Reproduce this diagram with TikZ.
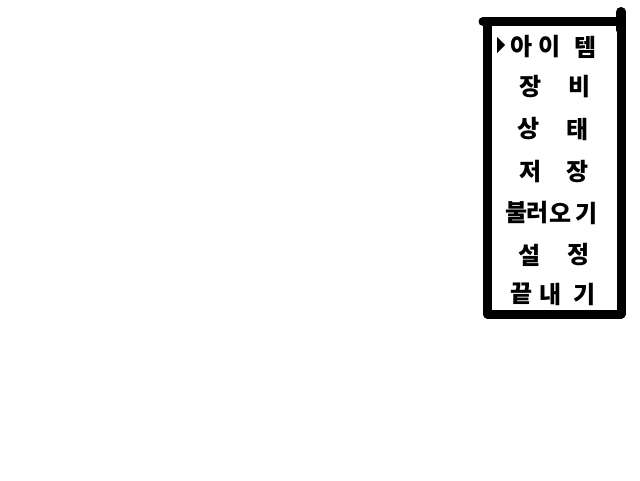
\documentclass[tikz,border=0pt]{standalone}
\usepackage{fontspec}
\newfontfamily\kr{Noto Sans CJK KR}
\tikzset{
  ch/.style={font=\kr\bfseries\fontsize{24}{24}\selectfont, inner sep=0pt, text=black},
  frame/.style={line width=9pt, line cap=round, line join=round, draw=black}
}
\begin{document}
\begin{tikzpicture}[x=1pt,y=-1pt]
\useasboundingbox[fill=white] (0,0) rectangle (640,480);
% frame
\coordinate (tr) at (621,12);
\coordinate (br) at (621,314);
\coordinate (bl) at (487.5,314);
\coordinate (tl) at (487.5,22);
\coordinate (tla) at (483,21.5);
\coordinate (tra) at (621,21.5);
\coordinate (trb) at (621,30);
\draw[frame] (tr) -- (br) -- (bl) -- (tl);
\draw[frame] (tla) -- (tra);
\draw[frame, line width=10pt] (tr) -- (trb);
% cursor
\fill (497,37) -- (497,53) -- (505,45) -- cycle;
% row 1
\node[ch] (a1) at (522,47) {아};
\node[ch] (a2) at (550,47) {이};
\node[ch] (a3) at (586,47) {템};
% row 2
\node[ch] (b1) at (531,87) {장};
\node[ch] (b2) at (580,87) {비};
% row 3
\node[ch] (c1) at (529,129) {상};
\node[ch] (c2) at (578,129) {태};
% row 4
\node[ch] (d1) at (531,172) {저};
\node[ch] (d2) at (578,172) {장};
% row 5
\node[ch] (e1) at (516.5,213) {불};
\node[ch] (e2) at (538,213) {러};
\node[ch] (e3) at (561,213) {오};
\node[ch] (e4) at (587,213) {기};
% row 6
\node[ch] (f1) at (530,255) {설};
\node[ch] (f2) at (579,255) {정};
% row 7
\node[ch] (g1) at (522,294) {끝};
\node[ch] (g2) at (551,294) {내};
\node[ch] (g3) at (585,294) {기};
\end{tikzpicture}
\end{document}
